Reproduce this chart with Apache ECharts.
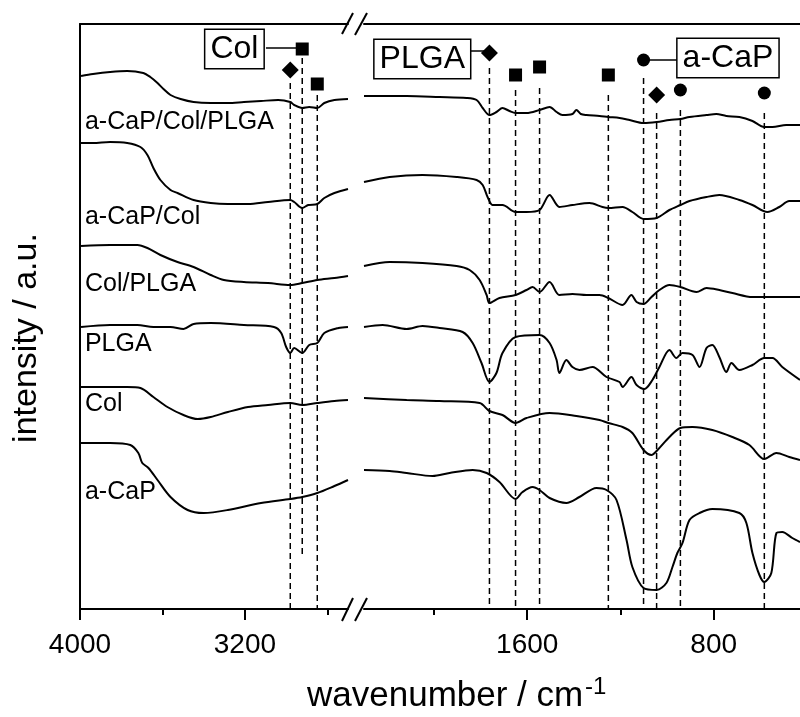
<!doctype html>
<html>
<head>
<meta charset="utf-8">
<title>FTIR spectra</title>
<script src="https://cdn.jsdelivr.net/npm/echarts@6/dist/echarts.min.js"></script>
<style>
html, body { margin: 0; padding: 0; background: #fff; }
#main { width: 800px; height: 717px; }
</style>
</head>
<body>
<div id="main"></div>
<script type="text/javascript">
// sample names, top to bottom, and where their name sits on the intensity scale
var sampleNames = ['a-CaP/Col/PLGA', 'a-CaP/Col', 'Col/PLGA', 'PLGA', 'Col', 'a-CaP'];
var sampleLabelY = [487, 392, 325, 265, 205, 117];
var sampleLabelX = 3976;

// spectra [wavenumber, intensity], high range 4000 - 2700 cm-1
var acapColPlgaHigh = [[3995,533],[3937,535],[3854,537],[3771,538],[3693,536],[3659,532],[3624,526],[3595,520],[3561,514],[3512,510],[3449,507],[3366,506],[3283,506],[3205,507],[3122,508],[3039,509],[2980,507],[2961,504],[2922,501],[2888,502],[2849,501],[2815,506],[2766,509],[2700,510]];
var acapColHigh = [[3995,466],[3937,466],[3854,467],[3771,466],[3707,462],[3673,454],[3644,441],[3610,429],[3561,419],[3527,416],[3449,409],[3366,406],[3283,405],[3185,405],[3088,407],[2980,409],[2961,407],[2922,401],[2893,404],[2849,405],[2815,411],[2766,416],[2700,420]];
var colPlgaHigh = [[3995,363],[3854,364],[3722,364],[3673,361],[3610,354],[3527,347],[3449,342],[3366,334],[3302,329],[3205,327],[3088,326],[2980,324],[2922,326],[2849,329],[2766,331],[2700,333]];
var plgaHigh = [[3995,282],[3854,284],[3722,284],[3644,282],[3561,282],[3498,280],[3449,285],[3366,286],[3205,284],[3059,282],[3024,276],[3000,262],[2980,256],[2961,261],[2922,256],[2888,264],[2849,266],[2815,276],[2746,281],[2700,282]];
var colHigh = [[3995,222],[3771,222],[3707,221],[3644,212],[3576,202],[3498,194],[3429,190],[3366,192],[3283,197],[3185,202],[3088,204],[2980,206],[2922,204],[2849,206],[2766,208],[2700,209]];
var acapHigh = [[3995,166],[3854,166],[3756,164],[3717,156],[3698,146],[3668,141],[3624,129],[3561,112],[3478,99],[3400,96],[3283,99],[3122,106],[2980,110],[2922,112],[2849,116],[2766,123],[2700,129]];

// spectra [wavenumber, intensity], low range 2300 - 430 cm-1
var acapColPlgaLow = [[2300,513],[2117,513],[1976,512],[1860,511],[1817,509],[1791,501],[1762,494],[1732,497],[1706,501],[1676,498],[1650,496],[1603,496],[1547,499],[1504,502],[1474,497],[1449,494],[1406,495],[1389,499],[1370,495],[1346,494],[1290,493],[1252,492],[1204,491],[1161,489],[1101,486],[1045,487],[990,489],[943,490],[904,492],[831,494],[789,495],[746,493],[690,492],[634,488],[583,482],[548,482],[489,484],[430,484]];
var acapColLow = [[2300,427],[2190,432],[2049,434],[1903,432],[1817,429],[1791,424],[1770,412],[1749,404],[1706,404],[1650,397],[1603,397],[1547,399],[1504,414],[1462,402],[1406,404],[1333,406],[1277,402],[1252,401],[1191,402],[1149,397],[1101,390],[1045,391],[990,399],[943,404],[904,408],[831,412],[776,414],[690,409],[634,404],[570,397],[519,402],[476,408],[430,408]];
var colPlgaLow = [[2300,343],[2190,347],[2049,346],[1903,343],[1847,339],[1804,329],[1774,314],[1762,306],[1719,311],[1650,314],[1603,319],[1577,322],[1547,317],[1504,327],[1462,314],[1406,315],[1346,314],[1290,314],[1252,311],[1191,304],[1153,314],[1131,307],[1101,305],[1067,312],[1033,319],[990,324],[943,322],[874,317],[831,321],[776,319],[720,316],[634,312],[583,312],[430,312]];
var plgaLow = [[2300,282],[2220,284],[2117,280],[2049,283],[1976,281],[1877,277],[1834,266],[1796,246],[1762,227],[1732,236],[1706,256],[1650,272],[1547,274],[1504,266],[1474,249],[1462,236],[1432,249],[1406,242],[1376,239],[1320,242],[1260,232],[1204,227],[1191,222],[1153,232],[1131,224],[1097,220],[1063,229],[1033,242],[990,259],[960,251],[934,256],[891,254],[861,242],[831,261],[806,264],[776,252],[746,237],[724,246],[690,239],[634,244],[583,251],[548,251],[506,242],[430,229]];
var colLow = [[2300,211],[2117,209],[1976,208],[1804,206],[1762,198],[1706,194],[1650,186],[1603,191],[1504,196],[1389,193],[1290,189],[1252,186],[1191,182],[1149,176],[1101,159],[1067,154],[1041,159],[990,172],[943,181],[891,182],[806,179],[720,172],[647,164],[583,150],[531,156],[476,152],[430,149]];
var acapLow = [[2300,139],[2190,138],[2117,136],[2006,133],[1933,136],[1834,139],[1774,136],[1719,127],[1650,110],[1620,117],[1577,122],[1547,119],[1504,111],[1432,106],[1376,112],[1303,121],[1260,119],[1217,109],[1174,69],[1149,42],[1101,21],[1045,19],[1003,26],[977,42],[956,56],[934,66],[904,89],[861,96],[806,100],[690,96],[660,86],[634,56],[604,34],[583,27],[553,36],[531,76],[506,77],[463,71],[430,67]];

var highSpectra = [acapColPlgaHigh, acapColHigh, colPlgaHigh, plgaHigh, colHigh, acapHigh];
var lowSpectra = [acapColPlgaLow, acapColLow, colPlgaLow, plgaLow, colLow, acapLow];

// band assignments: position, top of the dashed line, bottom, marker height, marker type
var bandHighW = [2980, 2922, 2849];
var bandHighTop = [526, 551, 514];
var bandHighBottom = [0, 54, 0];
var bandHighMarkY = [539, 560, 525];
var bandHighMark = ['diamond', 'rect', 'rect'];

var bandLowW = [1762, 1650, 1547, 1252, 1101, 1045, 943, 583];
var bandLowTop = [541, 519, 521, 514, 531, 496, 499, 496];
var bandLowBottom = [0, 0, 0, 0, 0, 0, 0, 0];
var bandLowMarkY = [556, 534, 542, 534, 549, 514, 519, 516];
var bandLowMark = ['diamond', 'rect', 'rect', 'rect', 'circle', 'diamond', 'circle', 'circle'];

// legend boxes: [wavenumber, intensity] of the box centre and its connector
var keyCol = [3251, 560], keyColLine = [[3098, 561], [2922, 561]];
var keyPlga = [2050, 550], keyPlgaLine = [[1849, 558], [1762, 558]];
var keyAcap = [739, 551], keyAcapLine = [[1101, 549], [953, 549]];

// axis ticks
var majorTicksHigh = [4000, 3200];
var minorTicksHigh = [3600, 2800];
var majorTicksLow = [1600, 800];
var minorTicksLow = [2000, 1200];

var FONT = "'Liberation Sans', Arial, sans-serif";
var INK = '#000';

var myChart = echarts.init(document.getElementById('main'));

function mainAxis(grid, min, max, major) {
	return {
		type: 'value', gridIndex: grid, min: min, max: max, inverse: true, position: 'bottom',
		axisLine: { show: true, lineStyle: { color: INK, width: 2 } },
		axisTick: { show: true, customValues: major, length: 11, lineStyle: { color: INK, width: 2 } },
		axisLabel: { show: true, customValues: major, color: INK, fontSize: 28, fontFamily: FONT, margin: 22,
			formatter: function (v) { return String(v); } },
		splitLine: { show: false }
	};
}
function minorAxis(grid, min, max, minor) {
	return {
		type: 'value', gridIndex: grid, min: min, max: max, inverse: true, position: 'bottom',
		axisLine: { show: false },
		axisTick: { show: true, customValues: minor, length: 6, lineStyle: { color: INK, width: 2 } },
		axisLabel: { show: false },
		splitLine: { show: false }
	};
}
function topAxis(grid, min, max) {
	return {
		type: 'value', gridIndex: grid, min: min, max: max, inverse: true, position: 'top',
		axisLine: { show: true, lineStyle: { color: INK, width: 2 } },
		axisTick: { show: false }, axisLabel: { show: false }, splitLine: { show: false }
	};
}

var series = [];
// spectra
for (var i = 0; i < sampleNames.length; i++) {
	series.push({
		name: sampleNames[i], type: 'line', xAxisIndex: 0, yAxisIndex: 0,
		data: highSpectra[i], showSymbol: false, smooth: 0.3,
		lineStyle: { color: INK, width: 2 }, silent: true, animation: false
	});
	series.push({
		name: sampleNames[i], type: 'line', xAxisIndex: 3, yAxisIndex: 1,
		data: lowSpectra[i], showSymbol: false, smooth: 0.3,
		lineStyle: { color: INK, width: 2 }, silent: true, animation: false
	});
}
// dashed band lines
function bandLines(ws, tops, bottoms, xi, yi) {
	for (var k = 0; k < ws.length; k++) {
		series.push({
			type: 'line', xAxisIndex: xi, yAxisIndex: yi,
			data: [[ws[k], tops[k]], [ws[k], bottoms[k]]], showSymbol: false,
			lineStyle: { color: INK, width: 1.5, type: [6, 4] }, silent: true, animation: false
		});
	}
}
bandLines(bandHighW, bandHighTop, bandHighBottom, 0, 0);
bandLines(bandLowW, bandLowTop, bandLowBottom, 3, 1);

// connectors of the legend boxes
[[keyColLine, 0, 0], [keyPlgaLine, 3, 1], [keyAcapLine, 3, 1]].forEach(function (c) {
	series.push({
		type: 'line', xAxisIndex: c[1], yAxisIndex: c[2], data: c[0], showSymbol: false,
		lineStyle: { color: INK, width: 1.5 }, silent: true, animation: false
	});
});

// band markers
function bandMarks(ws, ys, kinds, xi, yi) {
	series.push({
		type: 'scatter', xAxisIndex: xi, yAxisIndex: yi, animation: false, silent: true, z: 5,
		data: ws.map(function (w, k) {
			var size = kinds[k] === 'diamond' ? 17 : 13;
			return { value: [w, ys[k]], symbol: kinds[k], symbolSize: size };
		}),
		itemStyle: { color: INK, opacity: 1 }
	});
}
bandMarks(bandHighW, bandHighMarkY, bandHighMark, 0, 0);
bandMarks(bandLowW, bandLowMarkY, bandLowMark, 3, 1);

// legend boxes
[['Col', keyCol, 0, 0], ['PLGA', keyPlga, 3, 1], ['a-CaP', keyAcap, 3, 1]].forEach(function (b) {
	series.push({
		type: 'scatter', xAxisIndex: b[2], yAxisIndex: b[3], symbolSize: 0, animation: false, silent: true, z: 6,
		data: [{ value: b[1], name: b[0] }],
		itemStyle: { opacity: 1 },
		label: {
			show: true, position: 'inside', formatter: '{b}', color: INK, fontSize: 32, fontFamily: FONT, opacity: 1,
			backgroundColor: '#fff', borderColor: INK, borderWidth: 1.5, padding: [3, 5, 1, 5], lineHeight: 34
		}
	});
});

// sample names
series.push({
	type: 'scatter', xAxisIndex: 0, yAxisIndex: 0, symbolSize: 0, animation: false, silent: true, z: 6,
	data: sampleNames.map(function (n, k) { return { value: [sampleLabelX, sampleLabelY[k]], name: n }; }),
	itemStyle: { opacity: 1 },
	label: { show: true, position: 'right', distance: 0, formatter: '{b}', color: INK, opacity: 1, fontSize: 25, fontFamily: FONT }
});

var option = {
	backgroundColor: '#fff',
	animation: false,
	grid: [
		{ left: 80, top: 24, width: 268, height: 585 },
		{ left: 364, top: 24, width: 436, height: 585 }
	],
	xAxis: [
		mainAxis(0, 2700, 4000, majorTicksHigh),
		minorAxis(0, 2700, 4000, minorTicksHigh),
		topAxis(0, 2700, 4000),
		mainAxis(1, 430, 2300, majorTicksLow),
		minorAxis(1, 430, 2300, minorTicksLow),
		topAxis(1, 430, 2300)
	],
	yAxis: [
		{ type: 'value', gridIndex: 0, min: 0, max: 585,
		  axisLine: { show: true, lineStyle: { color: INK, width: 2 } },
		  axisTick: { show: false }, axisLabel: { show: false }, splitLine: { show: false } },
		{ type: 'value', gridIndex: 1, min: 0, max: 585, show: false, splitLine: { show: false } }
	],
	graphic: [
		// axis break marks
		{ type: 'line', shape: { x1: 342, y1: 34, x2: 353, y2: 13 }, style: { stroke: INK, lineWidth: 2 } },
		{ type: 'line', shape: { x1: 355, y1: 35, x2: 367, y2: 13 }, style: { stroke: INK, lineWidth: 2 } },
		{ type: 'line', shape: { x1: 342, y1: 621, x2: 353, y2: 598 }, style: { stroke: INK, lineWidth: 2 } },
		{ type: 'line', shape: { x1: 355, y1: 621, x2: 367, y2: 598 }, style: { stroke: INK, lineWidth: 2 } },
		// axis titles
		{ type: 'text', x: 27, y: 338, rotation: Math.PI / 2,
		  style: { text: 'intensity / a.u.', fontSize: 34, fontFamily: FONT, fill: INK, align: 'center', verticalAlign: 'middle' } },
		{ type: 'text', x: 307, y: 696,
		  style: { text: 'wavenumber / cm', fontSize: 35, fontFamily: FONT, fill: INK, align: 'left', verticalAlign: 'middle' } },
		{ type: 'text', x: 585, y: 687,
		  style: { text: '-1', fontSize: 24, fontFamily: FONT, fill: INK, align: 'left', verticalAlign: 'middle' } }
	],
	series: series
};

myChart.setOption(option);
</script>
</body>
</html>
